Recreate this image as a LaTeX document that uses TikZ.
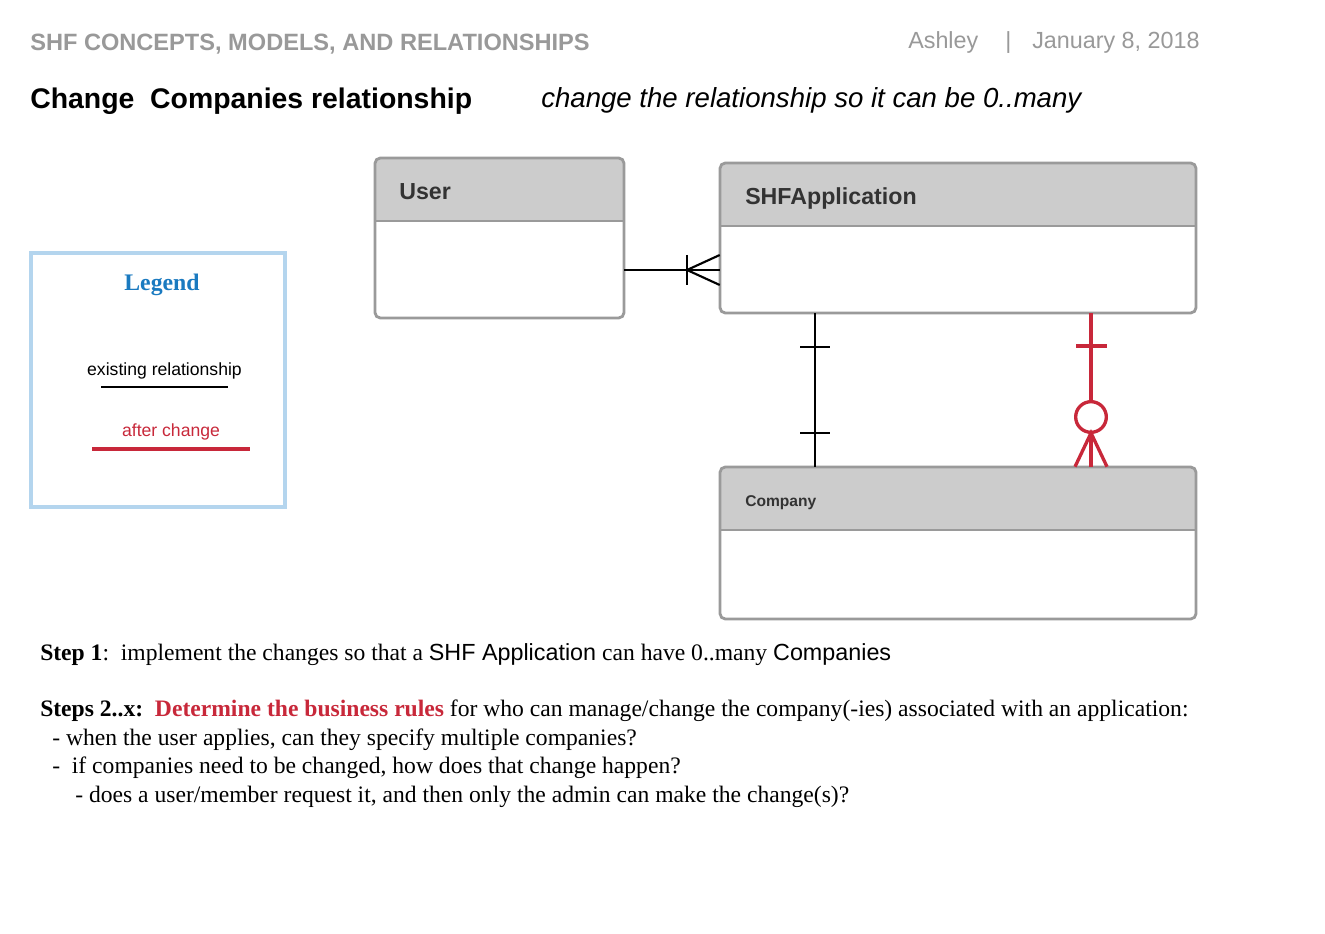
\documentclass[tikz,border=0pt]{standalone}
\usepackage{fontspec}
\setmainfont{Liberation Serif}
\setsansfont{Liberation Sans}
\usetikzlibrary{fit,calc}
\definecolor{bd}{HTML}{9A9A9A}
\definecolor{hdr}{HTML}{CCCCCC}
\definecolor{ttl}{HTML}{333333}
\definecolor{gtxt}{HTML}{999999}
\definecolor{rd}{HTML}{C8283A}
\definecolor{lblue}{HTML}{1A7AC0}
\definecolor{lbd}{HTML}{B4D5EE}
\newcommand{\fs}[1]{\fontsize{#1}{1.2\dimexpr#1\relax}\selectfont}
\tikzset{
  txt/.style={inner sep=0pt, anchor=base west},
  ctxt/.style={inner sep=0pt, anchor=base},
  boxline/.style={draw=bd, line width=2.1pt},
  conn/.style={line width=1.6pt, black},
  rconn/.style={line width=2.5pt, rd},
  ebox/.style={inner sep=0pt, draw=none},
}
\begin{document}
\begin{tikzpicture}[x=0.75pt,y=-0.75pt]
\useasboundingbox[fill=white] (0,0) rectangle (1325,934);
% header texts
\node[txt, text=gtxt, font=\sffamily\bfseries\fs{17.7pt}] (hdrtxt) at (30,51) {SHF CONCEPTS, MODELS, AND RELATIONSHIPS};
\node[txt, text=gtxt, font=\sffamily\fs{17.5pt}] (author) at (908,49) {Ashley};
\node[txt, text=gtxt, font=\sffamily\fs{17.5pt}] (sep) at (1005,49) {|};
\node[txt, text=gtxt, font=\sffamily\fs{17.5pt}] (date) at (1032,49) {January 8, 2018};
\node[txt, font=\sffamily\bfseries\fs{21.3pt}] (title) at (30,109) {Change\ \ Companies relationship};
\node[txt, font=\sffamily\itshape\fs{20.7pt}] (subtitle) at (541,108) {change the relationship so it can be 0..many};
% legend
\draw[lbd, line width=3pt] (31,253) rectangle (285,507);
\node[ctxt, text=lblue, font=\bfseries\fs{17.8pt}] (legend) at (162,291) {Legend};
\node[ctxt, font=\sffamily\fs{13.2pt}] (exist) at (164.5,375) {existing relationship};
\node[ctxt, text=rd, font=\sffamily\fs{13.2pt}] (after) at (171,436) {after change};
\coordinate (le1) at (101,387); \coordinate (le2) at (228,387);
\coordinate (lr1) at (92,449); \coordinate (lr2) at (250,449);
\draw[conn] (le1) -- (le2);
\draw[rconn] (lr1) -- (lr2);
% entity boxes
\foreach \n/\xa/\ya/\xb/\yb/\yh in {user/375/158/624/318/221, app/720/163/1196/313/226, comp/720/467/1196/619/530}{
  \begin{scope}
    \clip[rounded corners=4pt] (\xa,\ya) rectangle (\xb,\yb);
    \fill[white] (\xa,\ya) rectangle (\xb,\yb);
    \fill[hdr] (\xa,\ya) rectangle (\xb,\yh);
  \end{scope}
  \draw[boxline] (\xa,\yh) -- (\xb,\yh);
  \draw[boxline, rounded corners=4pt] (\xa,\ya) rectangle (\xb,\yb);
  \coordinate (\n-nw) at (\xa,\ya);
  \coordinate (\n-se) at (\xb,\yb);
  \node[ebox, fit=(\n-nw)(\n-se)] (\n) {};
}
\node[txt, text=ttl, font=\sffamily\bfseries\fs{17.4pt}] (usertitle) at (399,200) {User};
\node[txt, text=ttl, font=\sffamily\bfseries\fs{17.4pt}] (apptitle) at (745,205) {SHFApplication};
\node[txt, text=ttl, font=\sffamily\bfseries\fs{11.7pt}] (comptitle) at (745,506) {Company};
% connector User - SHFApplication (one to many)
\coordinate (yua) at (0,270);
\coordinate (cf) at (687,270);
\draw[conn] (user.east |- yua) -- (app.west |- yua);
\draw[conn] (687,255) -- (687,285);
\draw[conn] (app.west |- 0,255) -- (cf) -- (app.west |- 0,285);
% connector SHFApplication - Company (existing, one to one)
\coordinate (xb) at (815,0);
\draw[conn] (app.south -| xb) -- (comp.north -| xb);
\draw[conn] (800,347) -- (830,347);
\draw[conn] (800,433) -- (830,433);
% connector SHFApplication - Company (after change, one to zero-or-many)
\coordinate (xr) at (1091,0);
\coordinate (cc) at (1091,417);
\draw[rconn] (app.south -| xr) -- (1091,401);
\draw[rconn] (1076,346) -- (1107,346);
\draw[rconn] (cc) circle[radius=11.5pt];
\draw[rconn] (1091,433) -- (comp.north -| xr);
\draw[rconn] (comp.north -| 1075,0) -- (1091,433) -- (comp.north -| 1107,0);
% step text
\node[txt, font=\fs{17.7pt}] (step1) at (40,660) {\textbf{Step 1}:\ \ implement the changes so that a {\sffamily\fs{17.5pt}SHF Application} can have 0..many {\sffamily\fs{17.5pt}Companies}};
\node[txt, font=\fs{17.7pt}] (step2) at (40,716) {\textbf{Steps 2..x:}\ \ \textcolor{rd}{\textbf{Determine the business rules}} for who can manage/change the company(-ies) associated with an application:};
\node[txt, font=\fs{17.7pt}] (q1) at (52,745) {- when the user applies, can they specify multiple companies?};
\node[txt, font=\fs{17.7pt}] (q2) at (52,773) {-\ \ if companies need to be changed, how does that change happen?};
\node[txt, font=\fs{17.7pt}] (q3) at (75,802) {- does a user/member request it, and then only the admin can make the change(s)?};
\end{tikzpicture}
\end{document}
